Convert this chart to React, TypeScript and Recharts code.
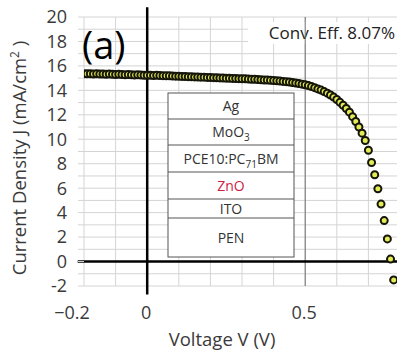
import { ScatterChart, Scatter, XAxis, YAxis, CartesianGrid, ReferenceLine } from 'recharts';

// J–V curve (V in volts, J in mA/cm²)
const voltage = [
  -0.2, -0.19, -0.18, -0.17, -0.16, -0.15, -0.14, -0.13, -0.12, -0.11,
  -0.1, -0.09, -0.08, -0.07, -0.06, -0.05, -0.04, -0.03, -0.02, -0.01,
  0.0, 0.01, 0.02, 0.03, 0.04, 0.05, 0.06, 0.07, 0.08, 0.09,
  0.1, 0.11, 0.12, 0.13, 0.14, 0.15, 0.16, 0.17, 0.18, 0.19,
  0.2, 0.21, 0.22, 0.23, 0.24, 0.25, 0.26, 0.27, 0.28, 0.29,
  0.3, 0.31, 0.32, 0.33, 0.34, 0.35, 0.36, 0.37, 0.38, 0.39,
  0.4, 0.41, 0.42, 0.43, 0.44, 0.45, 0.46, 0.47, 0.48, 0.49,
  0.5, 0.51, 0.52, 0.53, 0.54, 0.55, 0.56, 0.57, 0.58, 0.59,
  0.6, 0.61, 0.62, 0.63, 0.64, 0.65, 0.66, 0.67, 0.68, 0.69,
  0.7, 0.71, 0.72, 0.73, 0.74, 0.75, 0.76, 0.77, 0.78,
];
const currentDensity = [
  15.36, 15.35, 15.36, 15.34, 15.35, 15.33, 15.34, 15.32, 15.33, 15.31,
  15.3, 15.31, 15.29, 15.28, 15.29, 15.27, 15.26, 15.27, 15.25, 15.24,
  15.24, 15.23, 15.22, 15.23, 15.21, 15.2, 15.19, 15.19, 15.17, 15.16,
  15.15, 15.14, 15.13, 15.12, 15.11, 15.1, 15.09, 15.08, 15.08, 15.06,
  15.05, 15.04, 15.03, 15.02, 15.01, 15.0, 14.99, 14.98, 14.97, 14.96,
  14.95, 14.94, 14.92, 14.91, 14.9, 14.88, 14.87, 14.85, 14.84, 14.82,
  14.8, 14.78, 14.76, 14.73, 14.71, 14.68, 14.64, 14.6, 14.56, 14.51,
  14.46, 14.39, 14.31, 14.22, 14.12, 14.02, 13.9, 13.77, 13.62, 13.45,
  13.25, 13.02, 12.78, 12.52, 12.22, 11.85, 11.45, 11.0, 10.5, 9.9,
  9.1, 8.1, 7.1, 5.95, 4.7, 3.35, 1.85, 0.2, -1.5,
];

const xTicks = [-0.2, -0.1, 0, 0.1, 0.2, 0.3, 0.4, 0.5, 0.6, 0.7, 0.8];
const xTickLabels: Record<string, string> = { '-0.2': '−0.2', '0': '0', '0.5': '0.5' };
const yTicks = [-2, -1, 0, 1, 2, 3, 4, 5, 6, 7, 8, 9, 10, 11, 12, 13, 14, 15, 16, 17, 18, 19, 20];

const layers = ['Ag', 'MoO3', 'PCE10:PC71BM', 'ZnO', 'ITO', 'PEN'];

const points = voltage.map((v, i) => ({ v, j: currentDensity[i] }));

const FONT = '"Open Sans", "DejaVu Sans", sans-serif';
const TEXT = '#3a3a3a';

function XTick(props: any) {
  const { x, y, payload } = props;
  const label = xTickLabels[String(payload.value)];
  if (!label) return null;
  const shift = payload.value === -0.2 ? -12 : -1;
  return (
    <text x={x + shift} y={y} dy={33} textAnchor="middle" fill={TEXT} fontSize={18} fontFamily={FONT}>
      {label}
    </text>
  );
}

function Dot(props: any) {
  return <circle cx={props.cx} cy={props.cy} r={3.5} fill="#e3eb55" stroke="#15150a" strokeWidth={2} />;
}

function LayerStack() {
  const left = 168;
  const width = 126;
  const rows = [
    { top: 93, h: 26 },
    { top: 119, h: 26 },
    { top: 145, h: 27 },
    { top: 172, h: 27 },
    { top: 199, h: 19 },
    { top: 218, h: 39 },
  ];
  const cx = left + width / 2;
  return (
    <g fontFamily={FONT} fontSize={14} textAnchor="middle">
      <rect x={left} y={93} width={width} height={164} fill="#fff" stroke="#555" strokeWidth={1} />
      {rows.map((r, i) => (
        <g key={layers[i]}>
          {i > 0 && <line x1={left} x2={left + width} y1={r.top} y2={r.top} stroke="#555" strokeWidth={1} />}
          <text x={cx} y={r.top + r.h / 2} dy="0.36em" fill={layers[i] === 'ZnO' ? '#cc2244' : '#333'}>
            {layers[i] === 'MoO3' ? (
              <>
                MoO<tspan fontSize={10} dy={4}>3</tspan>
              </>
            ) : layers[i] === 'PCE10:PC71BM' ? (
              <>
                PCE10:PC<tspan fontSize={10} dy={4}>71</tspan>
                <tspan dy={-4}>BM</tspan>
              </>
            ) : (
              layers[i]
            )}
          </text>
        </g>
      ))}
    </g>
  );
}

export default function App() {
  return (
    <div style={{ position: 'absolute', left: 0, top: 0, width: 397, height: 351, overflow: 'hidden', background: '#fff' }}>
      <ScatterChart width={410} height={351} margin={{ top: 17, right: 10, bottom: 0, left: 0 }}>
        <CartesianGrid stroke="#d4d4d4" strokeWidth={1} />
        <XAxis
          type="number"
          dataKey="v"
          domain={[-0.2, 0.8]}
          ticks={xTicks}
          interval={0}
          axisLine={false}
          tickLine={false}
          tickSize={0}
          tickMargin={0}
          height={65}
          tick={<XTick />}
          allowDataOverflow
        />
        <YAxis
          type="number"
          dataKey="j"
          domain={[-2, 20]}
          ticks={yTicks}
          interval={0}
          width={84}
          axisLine={false}
          tickLine={{ stroke: '#d4d4d4' }}
          tickSize={6}
          tickMargin={11}
          tickFormatter={(t: number) => (t % 2 === 0 ? String(t) : '')}
          tick={{ fill: TEXT, fontSize: 18, fontFamily: FONT }}
          allowDataOverflow
        />
        <ReferenceLine x={0.5} stroke="#6e6e6e" strokeWidth={1} />
        <ReferenceLine
          segment={[{ x: -0.22, y: 0 }, { x: 0.8, y: 0 }]}
          stroke="#000"
          strokeWidth={2.5}
          ifOverflow="visible"
        />
        <ReferenceLine
          segment={[{ x: 0, y: 20.8 }, { x: 0, y: -2.7 }]}
          stroke="#000"
          strokeWidth={2.5}
          ifOverflow="visible"
        />
        <LayerStack />
        <Scatter data={points} shape={<Dot />} isAnimationActive={false} />
        <text x={82} y={59} fontSize={38} fontFamily={FONT} fill="#000">
          (a)
        </text>
        <rect x={248} y={22} width={149} height={22} fill="#fff" />
        <text x={395} y={39} textAnchor="end" fontSize={17} fontFamily={FONT} fill="#222">
          Conv. Eff. 8.07%
        </text>
        <text x={222} y={346} textAnchor="middle" fontSize={18.5} fontFamily={FONT} fill={TEXT}>
          Voltage V (V)
        </text>
        <text
          transform="translate(26,158) rotate(-90)"
          textAnchor="middle"
          fontSize={18.5}
          fontFamily={FONT}
          fill={TEXT}
        >
          Current Density J (mA/cm<tspan fontSize={12} dy={-7}>2</tspan>
          <tspan dy={7}> )</tspan>
        </text>
      </ScatterChart>
    </div>
  );
}
